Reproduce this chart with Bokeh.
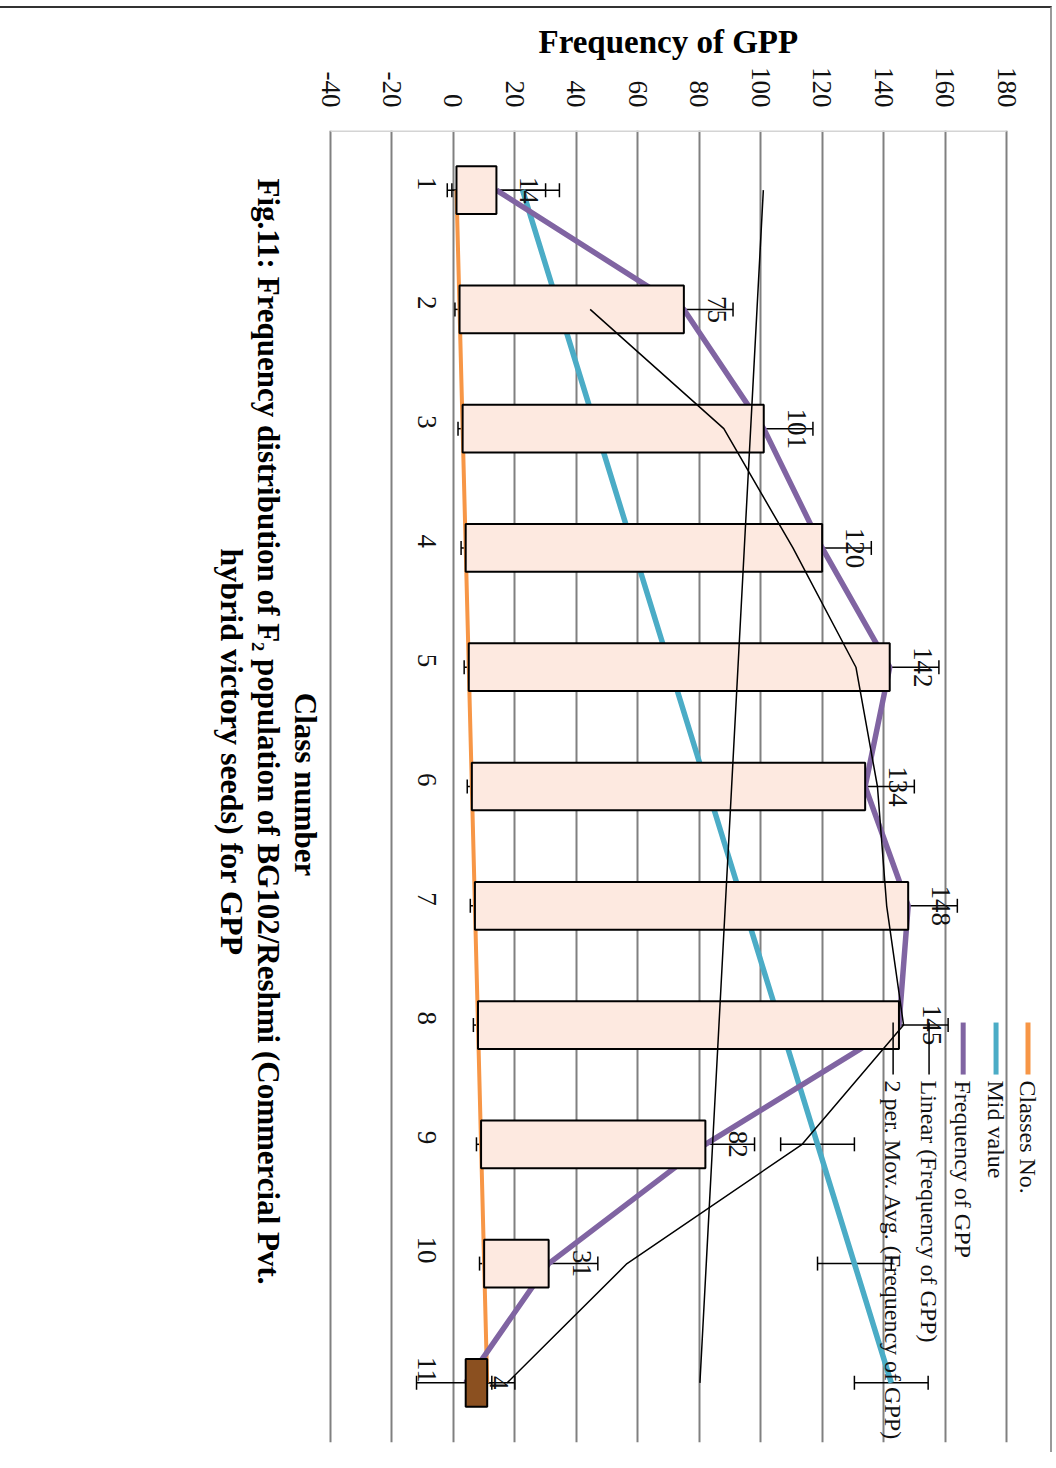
import math
import numpy as np
from bokeh.plotting import figure
from bokeh.models import Range1d, FixedTicker, Whisker, TeeHead, ColumnDataSource, Label, Arrow, Title
from bokeh.core.properties import value
from bokeh.embed import file_html
from bokeh.resources import INLINE

# ---------------- data ----------------
classes = [1, 2, 3, 4, 5, 6, 7, 8, 9, 10, 11]
class_labels = ["1", "2", "3", "4", "5", "6", "7", "8", "9", "10", "11"]
mid_value = [22.5, 34.5, 46.5, 58.5, 70.5, 82.5, 94.5, 106.5, 118.5, 130.5, 142.5]
frequency = [14, 75, 101, 120, 142, 134, 148, 145, 82, 31, 4]
freq_err = 16
mid_err = 12
class_err = 1.5
value_ticks = [-40, -20, 0, 20, 40, 60, 80, 100, 120, 140, 160, 180]
legend_names = ["Classes No.", "Mid value", "Frequency  of GPP",
                "Linear (Frequency  of GPP)", "2 per. Mov. Avg. (Frequency  of GPP)"]
title_line1 = "Fig.11: Frequency distribution of F\u2082 population of BG102/Reshmi (Commercial Pvt."
title_line2 = "hybrid victory seeds) for GPP"
x_title = "Frequency  of GPP"
y_title = "Class number"

# derived (Excel trendlines)
coef = np.polyfit(classes, frequency, 1)
trend = list(np.polyval(coef, classes))
mov_avg = [(frequency[i - 1] + frequency[i]) / 2 for i in range(1, len(frequency))]

ORANGE = "#F79646"
BLUE = "#4BACC6"
PURPLE = "#8064A2"
UP_FILL = "#FDE9E0"
DOWN_FILL = "#8B5020"
FONT = "Liberation Serif"
ROT = -math.pi / 2

# frame covers the plot area plus the rotated title/legend zones
SCALE = 676 / 220.0
X_LEFT = -40 - 130 / SCALE
X_RIGHT = X_LEFT + 846 / SCALE

p = figure(frame_width=846, frame_height=1312,
           x_range=Range1d(X_LEFT, X_RIGHT), y_range=Range1d(11.5, 0.5),
           x_axis_location="above", output_backend="svg", toolbar_location=None,
           min_border_left=200, min_border_right=4, min_border_top=122, min_border_bottom=10)
p.background_fill_color = "white"
p.border_fill_color = "white"
p.outline_line_color = None
p.styles = {"margin-top": "6px", "border-top": "2px solid #333333", "border-right": "2px solid #9a9a9a"}

p.xgrid.ticker = FixedTicker(ticks=value_ticks)
p.xgrid.grid_line_color = "#808080"
p.xgrid.grid_line_width = 2
p.ygrid.grid_line_color = None

xa = p.xaxis[0]
xa.ticker = FixedTicker(ticks=value_ticks)
xa.major_label_overrides = {t: str(t) for t in value_ticks}
xa.major_label_orientation = ROT
xa.major_label_text_font = FONT
xa.major_label_text_font_size = "27px"
xa.major_label_text_color = "#111111"
xa.major_label_standoff = 23
xa.major_tick_in = 0
xa.major_tick_out = 0
xa.minor_tick_line_color = None
xa.axis_line_color = None

p.add_layout(Title(text=x_title, align="left", offset=338, text_font=FONT,
                   text_font_style="bold", text_font_size="33px", text_color="black",
                   standoff=8), "above")

ya = p.yaxis[0]
ya.ticker = FixedTicker(ticks=classes)
ya.major_label_overrides = {c: l for c, l in zip(classes, class_labels)}
ya.fixed_location = 0
ya.major_label_orientation = ROT
ya.major_label_text_font = FONT
ya.major_label_text_font_size = "27px"
ya.major_label_text_color = "#111111"
ya.major_label_standoff = 26
ya.major_tick_in = 0
ya.major_tick_out = 0
ya.minor_tick_line_color = None
ya.axis_line_color = None

# light top border of the plot area
p.segment(x0=[value_ticks[0]], y0=[0.5], x1=[value_ticks[-1]], y1=[0.5],
          line_color="#d4d4d4", line_width=3)

# error bars (under the up/down bars)
def add_err(vals, err):
    src = ColumnDataSource(dict(y=classes, lower=[v - err for v in vals], upper=[v + err for v in vals]))
    w = Whisker(base="y", lower="lower", upper="upper", dimension="width", source=src,
                line_color="black", line_width=1.5,
                upper_head=TeeHead(size=14, line_color="black", line_width=1.5),
                lower_head=TeeHead(size=14, line_color="black", line_width=1.5))
    w.level = "underlay"
    p.add_layout(w)

add_err(classes, class_err)
add_err(mid_value, mid_err)
add_err(frequency, freq_err)

# series lines (value on x, class on y)
p.line(x=classes, y=classes, line_color=ORANGE, line_width=4)
p.line(x=mid_value, y=classes, line_color=BLUE, line_width=5.5)
p.line(x=frequency, y=classes, line_color=PURPLE, line_width=5.5)

# up / down bars between first and last line series
bar_fill = [UP_FILL if f >= c else DOWN_FILL for c, f in zip(classes, frequency)]
p.hbar(y=classes, left=classes, right=frequency, height=0.4,
       fill_color=bar_fill, line_color="black", line_width=2)

# trendlines
p.line(x=trend, y=classes, line_color="black", line_width=1.5)
p.line(x=mov_avg, y=classes[1:], line_color="black", line_width=1.5)

# data labels
p.text(x=frequency, y=classes, text=[str(f) for f in frequency], angle=ROT,
       x_offset=33, text_align="center", text_baseline="middle",
       text_font=value(FONT), text_font_size="27px", text_color="#111111")

# titles
p.add_layout(Label(x=-60.2, y=5.539, text=title_line1, angle=ROT, text_align="center",
                   text_baseline="middle", text_font=FONT, text_font_style="bold",
                   text_font_size="31px", text_color="black"))
p.add_layout(Label(x=-71.9, y=5.711, text=title_line2, angle=ROT, text_align="center",
                   text_baseline="middle", text_font=FONT, text_font_style="bold",
                   text_font_size="32px", text_color="black"))
p.add_layout(Label(x=-48.1, y=5.983, text=y_title, angle=ROT, text_align="center",
                   text_baseline="middle", text_font=FONT, text_font_style="bold",
                   text_font_size="31px", text_color="black"))

# legend (rotated, drawn manually)
leg_x = [187.0, 176.6, 165.9, 154.8, 143.1]
leg_col = [ORANGE, BLUE, PURPLE, "black", "black"]
leg_w = [5, 5, 5, 1.5, 1.5]
for lx, name, col, lw in zip(leg_x, legend_names, leg_col, leg_w):
    p.add_layout(Arrow(start=None, end=None, x_start=lx, y_start=7.979, x_end=lx, y_end=8.415,
                       line_color=col, line_width=lw))
    p.add_layout(Label(x=lx, y=8.465, text=name, angle=ROT, text_align="left",
                       text_baseline="middle", text_font=FONT, text_font_size="24px",
                       text_color="#111111"))

open("out.html", "w").write(file_html(p, INLINE))
